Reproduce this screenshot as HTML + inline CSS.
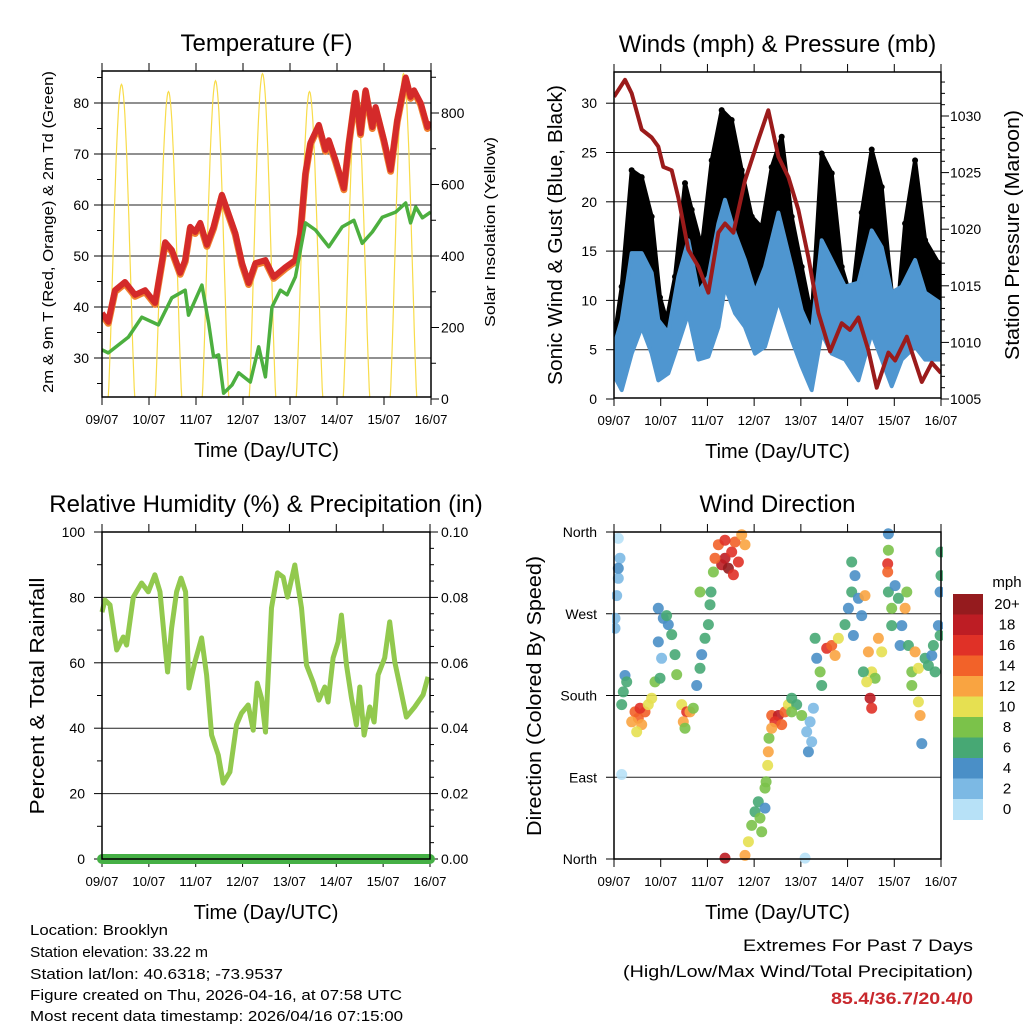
<!DOCTYPE html>
<html><head><meta charset="utf-8"><style>
html,body{margin:0;padding:0;background:#fff;}
svg{display:block;font-family:"Liberation Sans",Arial,sans-serif;}
</style></head><body>
<svg id="root" width="1024" height="1024" viewBox="0 0 1024 1024" xmlns="http://www.w3.org/2000/svg">
<g id="g1"></g>
<g id="g2"></g>
<g id="g3"></g>
<g id="g4"></g>
<g id="txt" font-size="15" fill="#000">
<text x="30" y="935" textLength="138" lengthAdjust="spacingAndGlyphs">Location: Brooklyn</text>
<text x="30" y="957" textLength="178" lengthAdjust="spacingAndGlyphs">Station elevation: 33.22 m</text>
<text x="30" y="979" textLength="253" lengthAdjust="spacingAndGlyphs">Station lat/lon: 40.6318; -73.9537</text>
<text x="30" y="1000" textLength="372" lengthAdjust="spacingAndGlyphs">Figure created on Thu, 2026-04-16, at 07:58 UTC</text>
<text x="30" y="1021" textLength="373" lengthAdjust="spacingAndGlyphs">Most recent data timestamp: 2026/04/16 07:15:00</text>
<text x="973" y="951" text-anchor="end" font-size="17" textLength="230" lengthAdjust="spacingAndGlyphs">Extremes For Past 7 Days</text>
<text x="973" y="977" text-anchor="end" font-size="17" textLength="350" lengthAdjust="spacingAndGlyphs">(High/Low/Max Wind/Total Precipitation)</text>
<text x="973" y="1004" text-anchor="end" font-size="17" font-weight="bold" fill="#c8282d" textLength="142" lengthAdjust="spacingAndGlyphs">85.4/36.7/20.4/0</text>
</g>
</svg>
<script>
// ---- Temperature panel data ----
const tempTimes=[0,0.135,0.277,0.49,0.704,0.917,1.13,1.344,1.486,1.663,1.77,1.877,1.983,2.09,2.232,2.374,2.552,2.836,2.978,3.12,3.263,3.476,3.653,3.902,4.115,4.222,4.329,4.435,4.613,4.755,4.826,4.968,5.146,5.253,5.395,5.501,5.608,5.75,5.821,5.999,6.141,6.283,6.461,6.567,6.638,6.781,6.923,6.994];
const tempValues=[38.8,37.1,43.3,44.9,42.4,43.3,40.8,52.7,51.2,46.7,49.2,55.7,54.7,56.5,52.2,55.7,62,54.5,48.6,44.7,48.6,49.2,45.9,47.8,49.2,54.5,66.3,72.2,75.7,70.8,72.7,68.8,63.3,72.2,82,74.1,82.5,75.3,79.2,72.7,66.9,76.7,85,81.2,82.5,80,75.3,76.3];
const dewTimes=[0,0.135,0.562,0.846,1.201,1.486,1.77,1.841,2.125,2.268,2.374,2.481,2.587,2.765,2.907,3.156,3.334,3.476,3.618,3.796,3.938,4.115,4.329,4.542,4.826,5.11,5.359,5.537,5.75,5.963,6.248,6.461,6.567,6.674,6.816,6.994];
const dewValues=[31.6,31,34.1,38,36.5,41.8,43.3,38.4,44.3,36.9,30.2,30.6,23.1,24.7,27.1,25.3,32.2,26.3,40,43.3,42.4,45.9,56.5,55.1,51.8,55.7,57,52.5,54.7,57.6,58.6,60.4,56.5,59.6,57.5,58.6];
const solarPeaks=[880,860,890,910,860,860,910];
const sunrise=[0.13,0.13,0.13,0.13,0.13,0.13,0.13];
const sunset=[0.70,0.70,0.70,0.70,0.70,0.70,0.70];
const dayLabels=["09/07","10/07","11/07","12/07","13/07","14/07","15/07","16/07"];
const tempTicks=[30,40,50,60,70,80];
const solarTicks=[0,200,400,600,800];
// ---- Winds panel data ----
const gustTimes=[0.021,0.164,0.378,0.592,0.806,0.985,1.127,1.306,1.52,1.663,1.877,2.091,2.305,2.519,2.733,2.948,3.162,3.376,3.59,3.804,4.018,4.232,4.446,4.661,4.875,5.089,5.303,5.517,5.731,5.945,6.088,6.231,6.445,6.659,6.945,7.0];
const gustHigh=[6.7,11.4,23.2,22.5,18.5,10.3,8,12.4,21.9,19.2,15.4,24.2,29.3,28.3,23.2,18.5,17.4,23.5,26.6,18.5,13.4,8.3,24.9,22.9,13.4,10,18.9,25.3,21.5,10.8,10,17.8,24.2,16.1,13.8,13];
const gustLow=[4,5.7,10.8,12.4,10.8,6.7,6,8,13.4,13.4,10,10.8,17.4,16.8,15.1,10.8,9.7,13.4,16.8,10,6.7,2.9,14.1,14.1,9,7.3,11.4,15.4,13.4,7.3,6.7,11.4,14.1,10,8.7,8.7];
const windTimes=[0.021,0.164,0.378,0.592,0.806,0.949,1.163,1.377,1.591,1.806,2.02,2.234,2.377,2.591,2.805,3.019,3.233,3.519,3.804,4.018,4.232,4.446,4.661,4.946,5.232,5.517,5.731,5.945,6.16,6.445,6.659,7.0];
const windHigh=[5.7,8,14.8,14.8,12.8,8,6.7,12.4,16.1,10.8,12.4,17.8,20.2,16.8,14.1,10.8,13.4,18.9,13.4,9,6.7,16.1,14.1,11.4,11.8,17.1,15.4,10.8,11.4,14.1,10.8,9.7];
const windLow=[2.2,0.9,4.6,7.3,4.6,1.9,2.6,5.6,8.7,4,4.3,7.3,11.4,8.7,7.3,4.6,5.3,10,6,3.3,0.9,6.7,4.6,4,1.9,6.7,4,1.3,4,5.3,4,4];
const presTimes=[0,0.235,0.378,0.592,0.806,0.949,1.056,1.235,1.377,1.591,1.806,2.02,2.234,2.377,2.555,2.805,3.09,3.304,3.519,3.733,3.947,4.161,4.375,4.625,4.875,5.053,5.232,5.446,5.624,5.874,6.017,6.267,6.588,6.802,7.0];
const presValues=[1031.7,1033.2,1032,1028.8,1028.1,1027.3,1025.5,1025.2,1022.8,1018.2,1016.7,1014.4,1019.7,1020.5,1019.7,1024.3,1027.9,1030.5,1026.4,1024.6,1021.7,1017.5,1012.6,1009.2,1011.7,1011.1,1012.2,1009.3,1006,1009.1,1008.4,1010.5,1006.5,1008.2,1007.3];
const windTicks=[0,5,10,15,20,25,30];
const presTicks=[1005,1010,1015,1020,1025,1030];
// ---- Humidity panel data ----
const rhTimes=[0,0.064,0.171,0.313,0.455,0.526,0.668,0.846,0.988,1.13,1.237,1.344,1.4,1.486,1.592,1.685,1.784,1.855,1.983,2.125,2.232,2.339,2.481,2.587,2.729,2.871,2.978,3.12,3.227,3.312,3.405,3.49,3.618,3.746,3.867,3.959,4.115,4.258,4.364,4.506,4.627,4.755,4.826,4.933,5.039,5.11,5.217,5.324,5.43,5.501,5.594,5.715,5.807,5.892,6.034,6.141,6.248,6.354,6.497,6.674,6.852,6.958];
const rhValues=[75.5,79.2,77.7,63.9,67.9,65.4,80.1,84.4,81.7,86.9,81.7,65.4,57.2,70.6,81.7,85.9,81.7,52.3,60.2,67.6,56.3,37.9,31.8,23.2,26.6,41,44.6,47.1,39.4,53.8,49.2,38.8,76.8,87.5,86.2,80.1,89.9,76.8,59.3,54.1,48.6,52.6,48,61.5,66.4,74.6,59.3,49.2,41,52.6,37.9,46.5,41.9,56.3,61.5,72.5,60.2,53.2,43.4,46.5,50.2,55.7];
const rainTimes=[0,7];
const rainValues=[0,0];
const rhTicks=[0,20,40,60,80,100];
const rainTicks=["0.00","0.02","0.04","0.06","0.08","0.10"];
// ---- Wind direction panel data ----
const dirTimes=[0.093,0.128,0.093,0.057,0.021,0.021,0.093,0.235,0.2,0.164,0.271,0.449,0.521,0.592,0.378,0.664,0.485,0.556,0.735,0.806,0.878,0.949,1.056,1.163,1.235,0.949,1.02,1.306,1.342,0.985,1.127,1.449,1.556,1.484,1.627,1.52,1.698,1.77,1.841,1.877,1.948,2.02,2.055,2.077,1.841,2.234,2.377,2.519,2.662,2.805,2.305,2.448,2.591,2.733,2.162,2.555,2.377,2.127,2.805,2.876,2.948,3.019,3.126,3.162,3.09,3.233,3.233,2.377,3.255,3.29,3.304,3.319,3.376,3.519,3.661,3.447,3.59,3.376,3.733,3.804,3.911,4.018,3.804,4.125,4.197,4.268,4.161,4.232,4.304,4.339,4.411,4.446,4.554,4.661,4.732,4.803,4.946,5.018,5.089,5.089,5.16,5.232,5.303,5.374,5.125,5.446,5.517,5.482,5.517,5.589,5.66,5.731,5.339,5.41,5.874,5.874,5.86,5.86,5.874,5.945,6.017,6.088,6.16,6.231,6.267,5.945,6.124,6.302,6.374,6.445,6.516,6.552,6.588,6.659,6.731,6.802,6.873,6.945,6.98,6.98,7.0,7.0,6.374,6.516,6.838,4.09,0.164];
const dirValues=[353,331,309,290,265,254,320,202,184,170,195,162,155,148,151,162,140,166,170,177,195,276,265,258,247,239,221,225,203,199,268,170,162,151,162,144,166,191,210,225,243,258,280,294,294,346,331,338,327,346,324,320,349,357,331,313,351,316,4,19,37,52,45,30,63,78,56,1,85,103,118,133,158,158,162,151,148,144,170,177,170,158,162,140,151,166,118,129,243,221,206,191,232,235,224,243,258,276,294,327,312,287,268,290,246,228,206,177,166,199,243,228,206,195,358,340,325,316,294,276,301,287,257,276,294,257,235,235,206,228,210,158,127,221,213,224,206,257,246,294,312,338,191,173,235,1,93];
const dirSpeeds=[1,2,2,2,3,2,5,4,6,7,6,14,14,12,12,14,10,16,10,10,8,4,4,4,6,4,3,6,8,6,6,10,16,12,12,8,8,4,6,4,6,6,6,6,8,14,18,16,16,12,18,20,14,12,14,16,16,8,12,10,8,6,8,8,6,8,4,18,8,10,12,8,14,18,14,16,14,12,10,6,6,8,8,2,2,2,4,2,6,4,8,6,16,14,12,10,6,4,6,6,4,4,4,12,4,12,10,18,16,8,12,10,6,10,4,8,16,14,6,8,4,6,4,12,8,6,4,6,8,12,10,12,4,6,6,4,6,4,6,4,6,6,8,10,6,0,0];
const dirLabels=["North","East","South","West","North"];
const dirTicks=[0,90,180,270,360];
const speedBins=["0","2","4","6","8","10","12","14","16","18","20+"];
const speedColors=["#b7e1f7","#7cb9e4","#4a8fc7","#47a874","#7bc24a","#e6e051","#f9a441","#f26229","#e03127","#bd1d24","#951b1e"];

const NS="http://www.w3.org/2000/svg";
function mk(parent,tag,attrs,text){const e=document.createElementNS(NS,tag);for(const k in attrs)e.setAttribute(k,attrs[k]);if(text!==undefined)e.textContent=text;parent.appendChild(e);return e;}

function frame(g,L,R,T,B,title,xt,name){
  const ax=mk(g,'g',{});
  
  
  const t=mk(g,'text',{x:(L+R)/2,y:T-20,'text-anchor':'middle','font-size':24},title);
  
  
  const xl=mk(g,'text',{x:(L+R)/2,y:B+60,'text-anchor':'middle','font-size':20},xt);
  
  
  const sx=d=>L+(R-L)*d/7;
  for(let i=0;i<dayLabels.length;i++){
    const x=sx(i);
    mk(ax,'line',{x1:x,x2:x,y1:B,y2:B+8,stroke:'#000','stroke-width':1});
    mk(ax,'line',{x1:x,x2:x,y1:T,y2:T-8,stroke:'#000','stroke-width':1});
    const lb=mk(ax,'text',{x:x,y:B+27,'text-anchor':'middle','font-size':13,textLength:33,lengthAdjust:'spacingAndGlyphs'},dayLabels[i]);
    
    
  }
  return {ax,sx};
}
function border(g,L,R,T,B){mk(g,'rect',{x:L,y:T,width:R-L,height:B-T,fill:'none',stroke:'#000','stroke-width':1.5});}
function linePath(xs,ys,sx,sy){return xs.map((t,i)=>(i?'L':'M')+sx(t).toFixed(1)+','+sy(ys[i]).toFixed(1)).join('');}

// ===== Panel 1 =====
(function(){
  const g=document.getElementById('g1');const L=102,R=431,T=71,B=397;
  const {ax,sx}=frame(g,L,R,T,B,'Temperature (F)','Time (Day/UTC)','temperature');
  const sy=v=>358-(v-30)*5.1;
  const sy2=v=>399-v*0.3575;
  for(const v of tempTicks){const y=sy(v);
    mk(ax,'line',{x1:L,x2:R,y1:y,y2:y,stroke:'#222','stroke-width':1});
    mk(ax,'line',{x1:L-8,x2:L,y1:y,y2:y,stroke:'#000'});
    const lb=mk(ax,'text',{x:L-13,y:y+5,'text-anchor':'end','font-size':14},String(v));
    }
  for(let v=25;v<=85;v+=10){const y=sy(v);mk(ax,'line',{x1:L-5,x2:L,y1:y,y2:y,stroke:'#000'});}
  for(const v of solarTicks){const y=sy2(v);
    mk(ax,'line',{x1:R,x2:R+8,y1:y,y2:y,stroke:'#000'});
    const lb=mk(ax,'text',{x:R+10,y:y+5,'font-size':14},String(v));
    }
  for(let v=100;v<=900;v+=200){const y=sy2(v);mk(ax,'line',{x1:R,x2:R+5,y1:y,y2:y,stroke:'#000'});}
  const yl=mk(g,'text',{transform:'translate(53,232) rotate(-90)','text-anchor':'middle','font-size':15,textLength:322,lengthAdjust:'spacingAndGlyphs'},'2m & 9m T (Red, Orange) & 2m Td (Green)');
  
  const yr=mk(g,'text',{transform:'translate(495,232) rotate(-90)','text-anchor':'middle','font-size':15,textLength:190,lengthAdjust:'spacingAndGlyphs'},'Solar Insolation (Yellow)');
  
  const cl=mk(g,'clipPath',{id:'c1'});mk(cl,'rect',{x:L,y:T,width:R-L,height:B-T});
  const pg=mk(g,'g',{'clip-path':'url(#c1)'});
  for(let d=0;d<solarPeaks.length;d++){
    let p='';const n=40;
    for(let k=0;k<=n;k++){const f=k/n;const t=d+sunrise[d]+(sunset[d]-sunrise[d])*f;
      const v=solarPeaks[d]*Math.pow(Math.sin(Math.PI*f),1.3);
      p+=(k?'L':'M')+sx(t).toFixed(1)+','+sy2(v).toFixed(1);}
    const s=mk(pg,'path',{d:p,fill:'none',stroke:'#f8dc4a','stroke-width':1.2});
    
  }
  const o=mk(pg,'path',{d:linePath(tempTimes,tempValues,sx,v=>sy(v)+1.5),fill:'none',stroke:'#f08030','stroke-width':7,'stroke-linejoin':'round'});
  
  const r=mk(pg,'path',{d:linePath(tempTimes,tempValues,sx,sy),fill:'none',stroke:'#d42a2a','stroke-width':6,'stroke-linejoin':'round'});
  
  const gr=mk(pg,'path',{d:linePath(dewTimes,dewValues,sx,sy),fill:'none',stroke:'#4caf3f','stroke-width':3.5,'stroke-linejoin':'round'});
  
  border(g,L,R,T,B);
})();

// ===== Panel 2 =====
(function(){
  const g=document.getElementById('g2');const L=614,R=941,T=72,B=398;
  const {ax,sx}=frame(g,L,R,T,B,'Winds (mph) & Pressure (mb)','Time (Day/UTC)','winds');
  const sy=v=>399-v*9.86;
  const sy2=v=>399-(v-1005)*11.32;
  for(const v of windTicks){const y=sy(v);
    if(v>0)mk(ax,'line',{x1:L,x2:R,y1:y,y2:y,stroke:'#222','stroke-width':1});
    mk(ax,'line',{x1:L-8,x2:L,y1:y,y2:y,stroke:'#000'});
    const lb=mk(ax,'text',{x:L-17,y:y+5,'text-anchor':'end','font-size':14},String(v));
    }
  for(const v of presTicks){const y=sy2(v);
    mk(ax,'line',{x1:R,x2:R+8,y1:y,y2:y,stroke:'#000'});
    const lb=mk(ax,'text',{x:R+9,y:y+5,'font-size':14},String(v));
    }
  for(let v=1006;v<=1033;v++){if(v%5){const y=sy2(v);mk(ax,'line',{x1:R,x2:R+4,y1:y,y2:y,stroke:'#000'});}}
  const yl=mk(g,'text',{transform:'translate(562,235) rotate(-90)','text-anchor':'middle','font-size':20,textLength:300,lengthAdjust:'spacingAndGlyphs'},'Sonic Wind & Gust (Blue, Black)');
  
  const yr=mk(g,'text',{transform:'translate(1019,235) rotate(-90)','text-anchor':'middle','font-size':20,textLength:250,lengthAdjust:'spacingAndGlyphs'},'Station Pressure (Maroon)');
  
  const cl=mk(g,'clipPath',{id:'c2'});mk(cl,'rect',{x:L,y:T,width:R-L,height:B-T});
  const pg=mk(g,'g',{'clip-path':'url(#c2)'});
  function band(ts,hi,lo,col,name){
    let p='';ts.forEach((t,i)=>p+=(i?'L':'M')+sx(t).toFixed(1)+','+sy(hi[i]).toFixed(1));
    for(let i=ts.length-1;i>=0;i--)p+='L'+sx(ts[i]).toFixed(1)+','+sy(lo[i]).toFixed(1);
    const e=mk(pg,'path',{d:p+'Z',fill:col,stroke:col,'stroke-width':4,'stroke-linejoin':'round'});
    
  }
  band(gustTimes,gustHigh,gustLow,'#000','gust-band');
  for(let i=0;i<gustTimes.length;i++){
    const c=mk(pg,'circle',{cx:sx(gustTimes[i]),cy:sy(gustHigh[i]),r:3,fill:'#000'});
    
  }
  band(windTimes,windHigh,windLow,'#4f96d0','wind-band');
  const p=mk(pg,'path',{d:linePath(presTimes,presValues,sx,sy2),fill:'none',stroke:'#9b1b1b','stroke-width':4,'stroke-linejoin':'round'});
  
  border(g,L,R,T,B);
})();

// ===== Panel 3 =====
(function(){
  const g=document.getElementById('g3');const L=102,R=430,T=532,B=859;
  const {ax,sx}=frame(g,L,R,T,B,'Relative Humidity (%) & Precipitation (in)','Time (Day/UTC)','humidity');
  const sy=v=>B-v*3.27;
  rhTicks.forEach((v,i)=>{const y=sy(v);
    if(v>0&&v<100)mk(ax,'line',{x1:L,x2:R,y1:y,y2:y,stroke:'#222','stroke-width':1});
    mk(ax,'line',{x1:L-8,x2:L,y1:y,y2:y,stroke:'#000'});
    mk(ax,'line',{x1:R,x2:R+8,y1:y,y2:y,stroke:'#000'});
    const lb=mk(ax,'text',{x:L-17,y:y+5,'text-anchor':'end','font-size':14},String(v));
    
    const rb=mk(ax,'text',{x:R+11,y:y+5,'font-size':14},rainTicks[i]);
    });
  for(let v=10;v<100;v+=20){const y=sy(v);mk(ax,'line',{x1:L-5,x2:L,y1:y,y2:y,stroke:'#000'});}
  for(let v=5;v<100;v+=5){if(v%20){const y=sy(v);mk(ax,'line',{x1:R,x2:R+4,y1:y,y2:y,stroke:'#000'});}}
  const yl=mk(g,'text',{transform:'translate(44,696) rotate(-90)','text-anchor':'middle','font-size':20,textLength:237,lengthAdjust:'spacingAndGlyphs'},'Percent & Total Rainfall');
  
  const rh=mk(g,'path',{d:linePath(rhTimes,rhValues,sx,sy),fill:'none',stroke:'#92c94e','stroke-width':5,'stroke-linejoin':'round'});
  
  const sr=v=>B-v*3270;
  const rn=mk(g,'path',{d:linePath(rainTimes,rainValues,sx,sr),fill:'none',stroke:'#45b045','stroke-width':10,'stroke-linecap':'round'});
  
  border(g,L,R,T,B);
})();

// ===== Panel 4 =====
(function(){
  const g=document.getElementById('g4');const L=614,R=941,T=532,B=859;
  const {ax,sx}=frame(g,L,R,T,B,'Wind Direction','Time (Day/UTC)','wind-direction');
  const sy=v=>B-v*(B-T)/360;
  dirTicks.forEach((v,i)=>{const y=sy(v);
    if(v>0&&v<360)mk(ax,'line',{x1:L,x2:R,y1:y,y2:y,stroke:'#222','stroke-width':1});
    mk(ax,'line',{x1:L-8,x2:L,y1:y,y2:y,stroke:'#000'});
    const lb=mk(ax,'text',{x:L-17,y:y+5,'text-anchor':'end','font-size':14},dirLabels[i]);
    });
  const yl=mk(g,'text',{transform:'translate(541,696) rotate(-90)','text-anchor':'middle','font-size':20,textLength:280,lengthAdjust:'spacingAndGlyphs'},'Direction (Colored By Speed)');
  
  const cl=mk(g,'clipPath',{id:'c4'});mk(cl,'rect',{x:L-2,y:T-5,width:R-L+4,height:B-T+10});
  const pg=mk(g,'g',{'clip-path':'url(#c4)'});
  for(let i=0;i<dirTimes.length;i++){
    const bi=Math.min(10,Math.floor(dirSpeeds[i]/2));
    const c=mk(pg,'circle',{cx:sx(dirTimes[i]).toFixed(1),cy:sy(dirValues[i]).toFixed(1),r:5.5,fill:speedColors[bi],'fill-opacity':0.9});
    
    
  }
  border(g,L,R,T,B);
  const cb=mk(g,'g',{});
  
  
  const cbT=594,cbH=20.5;
  const u=mk(cb,'text',{x:1007,y:587,'text-anchor':'middle','font-size':15},'mph');
  
  for(let k=0;k<speedBins.length;k++){
    const idx=speedBins.length-1-k;const y=cbT+k*cbH;
    const r=mk(cb,'rect',{x:953,y:y,width:30,height:cbH+0.5,fill:speedColors[idx]});
    
    const lb=mk(cb,'text',{x:1007,y:y+15,'text-anchor':'middle','font-size':15},speedBins[idx]);
    
  }
})();
</script>
</body></html>
